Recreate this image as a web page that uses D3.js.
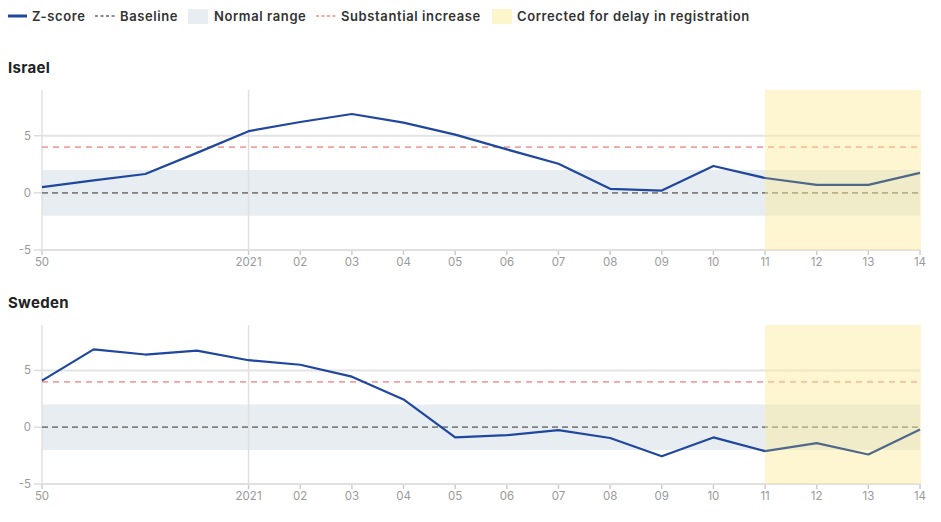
<!DOCTYPE html>
<meta charset="utf-8">
<style>
html, body {
  margin: 0;
  overflow: hidden;
  background: #fff;
  font-family: Inter, "Open Sans", sans-serif;
}
.legend text { font-size: 13px; font-weight: 600; fill: #333; letter-spacing: 0.6px; }
.title { font-size: 15px; font-weight: 700; fill: #222; letter-spacing: 0.3px; }
.tick-label { font-size: 11.5px; fill: #9a9a9a; }
</style>
<body>
<script src="https://cdn.jsdelivr.net/npm/d3@7"></script>
<script>
var width = 941,
    height = 522;

// weeks 50/2020 .. 14/2021
var weeks = ["50", "51", "52", "53", "2021", "02", "03", "04", "05", "06", "07",
             "08", "09", "10", "11", "12", "13", "14"];
var weekLabels = ["50", "", "", "", "2021", "02", "03", "04", "05", "06", "07",
                  "08", "09", "10", "11", "12", "13", "14"];
var israel = [0.5, 1.1, 1.65, 3.5, 5.4, 6.2, 6.9, 6.15, 5.1, 3.8, 2.55,
              0.35, 0.2, 2.35, 1.3, 0.7, 0.7, 1.75];
var sweden = [4.1, 6.85, 6.4, 6.75, 5.9, 5.5, 4.45, 2.45, -0.9, -0.7, -0.25,
              -0.95, -2.55, -0.9, -2.1, -1.4, -2.4, -0.2];
var yTicks = [-5, 0, 5];
var normalRange = [-2, 2];
var baseline = 0;
var substantial = 4;
var correctedFrom = "11";

var panels = [
  {name: "Israel", values: israel, titleY: 73, top: 90, bottom: 250},
  {name: "Sweden", values: sweden, titleY: 308, top: 325, bottom: 484}
];

var svg = d3.select("body").append("svg")
    .attr("width", width)
    .attr("height", height);

var x = d3.scalePoint()
    .domain(weeks)
    .range([42, 920]);

// legend
var legend = svg.append("g").attr("class", "legend");
legend.append("line").attr("x1", 8).attr("x2", 27).attr("y1", 16).attr("y2", 16)
    .attr("stroke", "#1f47a0").attr("stroke-width", 3);
legend.append("text").attr("x", 32).attr("y", 21).text("Z-score");
legend.append("line").attr("x1", 95).attr("x2", 115).attr("y1", 16).attr("y2", 16)
    .attr("stroke", "#666").attr("stroke-width", 1.5).attr("stroke-dasharray", "3,2.5");
legend.append("text").attr("x", 120).attr("y", 21).text("Baseline");
legend.append("rect").attr("x", 188).attr("y", 9).attr("width", 20).attr("height", 15)
    .attr("fill", "#e8edf2");
legend.append("text").attr("x", 214).attr("y", 21).text("Normal range");
legend.append("line").attr("x1", 316).attr("x2", 336).attr("y1", 16).attr("y2", 16)
    .attr("stroke", "#f08a8a").attr("stroke-width", 1.5).attr("stroke-dasharray", "3,2.5");
legend.append("text").attr("x", 341).attr("y", 21).text("Substantial increase");
legend.append("rect").attr("x", 492).attr("y", 9).attr("width", 20).attr("height", 15)
    .attr("fill", "#fdf5cc");
legend.append("text").attr("x", 517).attr("y", 21).text("Corrected for delay in registration");

panels.forEach(function(p) {
  var y = d3.scaleLinear().domain([-5, 9]).range([p.bottom, p.top]);
  var g = svg.append("g");

  g.append("text").attr("class", "title").attr("x", 8).attr("y", p.titleY).text(p.name);

  // normal range band
  g.append("rect")
    .attr("x", x(weeks[0]))
    .attr("width", x(weeks[weeks.length - 1]) - x(weeks[0]))
    .attr("y", y(normalRange[1]))
    .attr("height", y(normalRange[0]) - y(normalRange[1]))
    .attr("fill", "#e8edf2");

  // horizontal gridlines
  g.selectAll(".grid").data(yTicks.filter(function(d) { return d !== baseline; }))
    .enter().append("line")
    .attr("x1", x(weeks[0])).attr("x2", x(weeks[weeks.length - 1]))
    .attr("y1", function(d) { return y(d); }).attr("y2", function(d) { return y(d); })
    .attr("stroke", "#e4e4e4").attr("stroke-width", 2);

  // y axis line and year line
  g.append("line").attr("x1", x(weeks[0])).attr("x2", x(weeks[0]))
    .attr("y1", p.top).attr("y2", p.bottom)
    .attr("stroke", "#e0e0e0").attr("stroke-width", 1.5);
  g.append("line").attr("x1", x("2021")).attr("x2", x("2021"))
    .attr("y1", p.top).attr("y2", p.bottom)
    .attr("stroke", "#e0e0e0").attr("stroke-width", 1.5);

  // y tick labels
  g.selectAll(".ylab").data(yTicks).enter().append("text")
    .attr("class", "tick-label")
    .attr("x", 31).attr("y", function(d) { return y(d) + 4; })
    .attr("text-anchor", "end")
    .text(function(d) { return d; });
  g.selectAll(".ytick").data(yTicks).enter().append("line")
    .attr("x1", 34).attr("x2", 42)
    .attr("y1", function(d) { return y(d); }).attr("y2", function(d) { return y(d); })
    .attr("stroke", "#ddd").attr("stroke-width", 1.5);

  // x ticks
  g.selectAll(".xtick").data(weeks.filter(function(d, i) { return weekLabels[i]; }))
    .enter().append("line")
    .attr("x1", function(d) { return x(d); }).attr("x2", function(d) { return x(d); })
    .attr("y1", p.bottom).attr("y2", p.bottom + 5)
    .attr("stroke", "#ccc").attr("stroke-width", 1.5);
  g.selectAll(".xlab").data(weeks.filter(function(d, i) { return weekLabels[i]; }))
    .enter().append("text")
    .attr("class", "tick-label")
    .attr("x", function(d) { return x(d); })
    .attr("y", p.bottom + 16)
    .attr("text-anchor", "middle")
    .text(function(d) { return d; });

  // reference lines
  g.append("line").attr("x1", x(weeks[0])).attr("x2", x(weeks[weeks.length - 1]))
    .attr("y1", y(substantial)).attr("y2", y(substantial))
    .attr("stroke", "#f3a0a0").attr("stroke-width", 1.8).attr("stroke-dasharray", "6,5");
  g.append("line").attr("x1", x(weeks[0])).attr("x2", x(weeks[weeks.length - 1]))
    .attr("y1", y(baseline)).attr("y2", y(baseline))
    .attr("stroke", "#808080").attr("stroke-width", 1.8).attr("stroke-dasharray", "6,4");

  // bottom axis line
  g.append("line").attr("x1", x(weeks[0])).attr("x2", x(weeks[weeks.length - 1]))
    .attr("y1", p.bottom).attr("y2", p.bottom)
    .attr("stroke", "#e0e0e0").attr("stroke-width", 2);

  // z-score line
  var line = d3.line()
    .x(function(d) { return x(d.week); })
    .y(function(d) { return y(d.v); });
  var pts = weeks.map(function(w, i) { return {week: w, v: p.values[i]}; });
  var ci = weeks.indexOf(correctedFrom);
  g.append("path").datum(pts.slice(0, ci + 1))
    .attr("d", line).attr("fill", "none")
    .attr("stroke", "#1f47a0").attr("stroke-width", 2.2)
    .attr("stroke-linejoin", "round");

  // corrected region overlay
  g.append("rect")
    .attr("x", x(correctedFrom))
    .attr("width", x(weeks[weeks.length - 1]) - x(correctedFrom) + 1)
    .attr("y", p.top).attr("height", p.bottom - p.top)
    .attr("fill", "#fbec9a").attr("opacity", 0.45);

  g.append("path").datum(pts.slice(ci))
    .attr("d", line).attr("fill", "none")
    .attr("stroke", "#4f6889").attr("stroke-width", 2.2)
    .attr("stroke-linejoin", "round");
});
</script>
</body>
